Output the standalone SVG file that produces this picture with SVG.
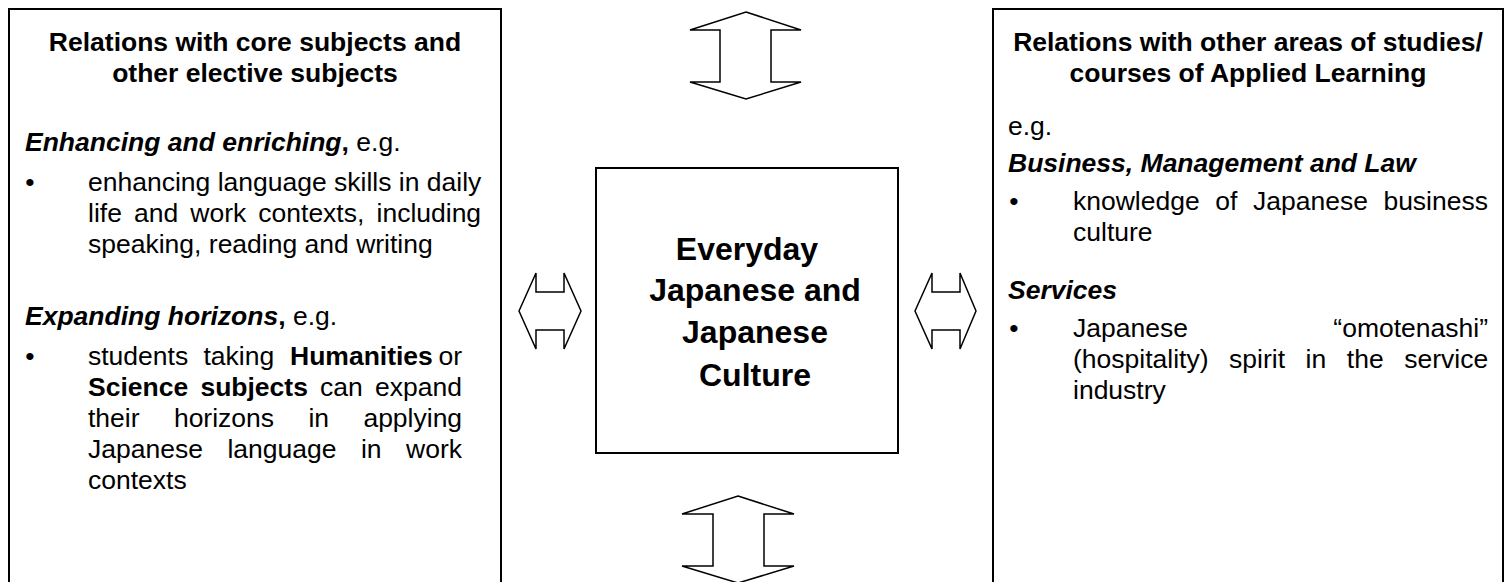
<svg xmlns="http://www.w3.org/2000/svg" width="1509" height="582" viewBox="0 0 1509 582">
<style>
.box{fill:#fff;stroke:#000;stroke-width:2}
.arrow{fill:#fff;stroke:#000;stroke-width:1.5;stroke-linejoin:miter}
.t{font-family:"Liberation Sans",Arial,sans-serif;font-size:26.5px;fill:#000}
.b{font-weight:bold}
.bi{font-weight:bold;font-style:italic}
.c{text-anchor:middle}
.e{text-anchor:end}
.big{font-size:32px;font-weight:bold}
</style>
<rect width="1509" height="582" fill="#fff"/>
<g id="node-left">
<rect class="box" x="9" y="9" width="492" height="600"/>
<text class="t b c" x="255" y="51">Relations with core subjects and</text>
<text class="t b c" x="255" y="82">other elective subjects</text>
<text class="t" x="25" y="151"><tspan class="bi">Enhancing and enriching</tspan><tspan class="b">,</tspan> e.g.</text>
<text class="t c" x="30" y="191">•</text>
<text class="t" x="88" y="191">enhancing language skills in daily</text>
<text class="t" y="222"><tspan x="88">life</tspan><tspan x="134">and</tspan><tspan x="190.3">work</tspan><tspan x="258.3">contexts,</tspan><tspan x="376.5">including</tspan></text>
<text class="t" x="88" y="253">speaking, reading and writing</text>
<text class="t" x="25" y="325"><tspan class="bi">Expanding horizons</tspan><tspan class="b">,</tspan> e.g.</text>
<text class="t c" x="30" y="365">•</text>
<text class="t" y="365"><tspan x="88">students</tspan><tspan x="203.5">taking</tspan><tspan x="290" class="b">Humanities</tspan><tspan x="438.5">or</tspan></text>
<text class="t" y="396"><tspan x="88" class="b">Science</tspan><tspan x="200.4" class="b">subjects</tspan><tspan x="320.1">can</tspan><tspan x="375">expand</tspan></text>
<text class="t" y="427"><tspan x="88">their</tspan><tspan x="173.9">horizons</tspan><tspan x="308.4">in</tspan><tspan x="363.4">applying</tspan></text>
<text class="t" y="458"><tspan x="88">Japanese</tspan><tspan x="227.4">language</tspan><tspan x="360.9">in</tspan><tspan x="406">work</tspan></text>
<text class="t" x="88" y="489">contexts</text>
</g>
<g id="node-center">
<rect class="box" x="596" y="168" width="302" height="285"/>
<text class="t big c" x="747" y="260">Everyday</text>
<text class="t big c" x="755" y="301">Japanese and</text>
<text class="t big c" x="755" y="343">Japanese</text>
<text class="t big c" x="755" y="386">Culture</text>
</g>
<g id="node-right">
<rect class="box" x="993" y="9" width="510" height="600"/>
<text class="t b c" x="1248" y="51">Relations with other areas of studies/</text>
<text class="t b c" x="1248" y="82">courses of Applied Learning</text>
<text class="t" x="1008" y="135">e.g.</text>
<text class="t bi" x="1008" y="172">Business, Management and Law</text>
<text class="t c" x="1014" y="210">•</text>
<text class="t" y="210"><tspan x="1073">knowledge</tspan><tspan x="1215.3">of</tspan><tspan x="1253">Japanese</tspan><tspan x="1383.4">business</tspan></text>
<text class="t" x="1073" y="241">culture</text>
<text class="t bi" x="1008" y="299">Services</text>
<text class="t c" x="1014" y="337">•</text>
<text class="t" x="1073" y="337">Japanese</text>
<text class="t e" x="1488" y="337">“omotenashi”</text>
<text class="t" y="368"><tspan x="1073">(hospitality)</tspan><tspan x="1229.1">spirit</tspan><tspan x="1305.6">in</tspan><tspan x="1346.8">the</tspan><tspan x="1404.2">service</tspan></text>
<text class="t" x="1073" y="399">industry</text>
</g>
<g id="connectors">
<path id="arrow-top" class="arrow" d="M746,12 L801,30 L771,30 L771,82 L801,82 L746,99 L690,82 L720,82 L720,30 L690,30 Z"/>
<path id="arrow-bottom" class="arrow" d="M738,496 L794,514 L764,514 L764,566 L794,566 L738,583 L682,566 L713,566 L713,514 L682,514 Z"/>
<path id="arrow-left" class="arrow" d="M519,311 L536,273 L536,292 L564,292 L564,273 L581,311 L564,349 L564,330 L536,330 L536,349 Z"/>
<path id="arrow-right" class="arrow" d="M915,311 L932,273 L932,292 L960,292 L960,273 L976,311 L960,349 L960,330 L932,330 L932,349 Z"/>
</g>
</svg>
